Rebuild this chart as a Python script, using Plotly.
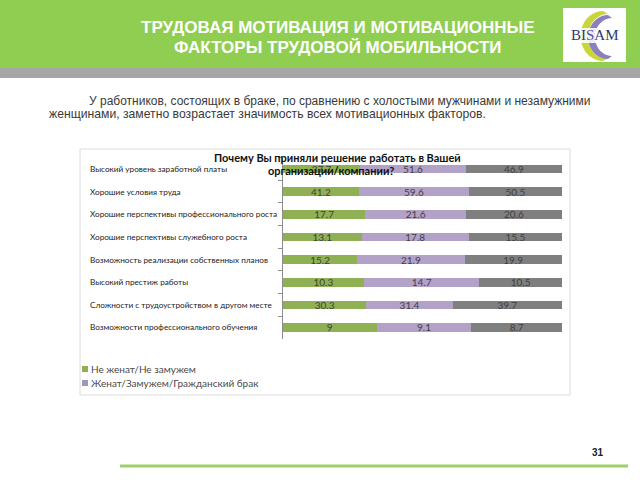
import math
import plotly.graph_objects as go

categories = [
    "Высокий уровень заработной платы",
    "Хорошие условия труда",
    "Хорошие перспективы профессионального роста",
    "Хорошие перспективы служебного роста",
    "Возможность реализации собственных планов",
    "Высокий престиж работы",
    "Сложности с трудоустройством в другом месте",
    "Возможности профессионального обучения",
]
series_names = [
    "Не женат/Не замужем",
    "Женат/Замужем/Гражданский брак",
    "Разведен(а)/Вдовец/Вдова",
]
single = [37.7, 41.2, 17.7, 13.1, 15.2, 10.3, 30.3, 9]
married = [51.6, 59.6, 21.6, 17.8, 21.9, 14.7, 31.4, 9.1]
divorced = [46.9, 50.5, 20.6, 15.5, 19.9, 10.5, 39.7, 8.7]
series_values = [single, married, divorced]
colors = ["#8fb153", "#b3a2c7", "#7f7f7f"]
legend_colors = ["#8fb153", "#9e98b8", "#9a9a9a"]
legend_shown = [True, True, False]

W, H = 640, 480


def px(x):
    return x / W


def py(y):
    return 1 - y / H


fig = go.Figure()
for name, vals, col in zip(series_names, series_values, colors):
    fig.add_trace(go.Bar(
        y=categories, x=vals, name=name, orientation="h",
        marker=dict(color=col, line=dict(width=0)),
        text=[f"{v:g}" for v in vals], texttemplate="%{text}", textposition="inside",
        insidetextanchor="middle", textangle=0,
        textfont=dict(family="Lato, Liberation Sans, sans-serif", size=10, color="#404040"),
        width=0.38, showlegend=False, hoverinfo="skip",
    ))

shapes = [
    dict(type="rect", xref="paper", yref="paper", x0=0, x1=1, y0=py(68), y1=1,
         fillcolor="#8fce50", line=dict(width=0), layer="below"),
    dict(type="rect", xref="paper", yref="paper", x0=0, x1=1, y0=py(78), y1=py(68),
         fillcolor="#a6a6a6", line=dict(width=0), layer="below"),
    dict(type="rect", xref="paper", yref="paper", x0=px(563), x1=px(626), y0=py(62), y1=py(8),
         fillcolor="white", line=dict(width=0), layer="below"),
    dict(type="rect", xref="paper", yref="paper", x0=px(80), x1=px(570), y0=py(395), y1=py(149),
         fillcolor="rgba(0,0,0,0)", line=dict(color="#dcdcdc", width=1), layer="below"),
    dict(type="line", xref="paper", yref="paper", x0=px(120), x1=px(628), y0=py(466), y1=py(466),
         line=dict(color="#9dd06a", width=3)),
]


def arc_path(cx, cy, r_out, r_in, dx):
    pts_out = []
    pts_in = []
    for i in range(0, 21):
        a = math.pi / 2 + math.pi * i / 20
        pts_out.append((cx + r_out * 0.9 * math.cos(a), cy - r_out * math.sin(a)))
        pts_in.append((cx + dx + r_in * 0.9 * math.cos(a), cy - r_in * math.sin(a)))
    path = "M " + " L ".join(f"{px(x):.5f},{py(y):.5f}" for x, y in pts_out)
    path += " L " + " L ".join(f"{px(x):.5f},{py(y):.5f}" for x, y in reversed(pts_in)) + " Z"
    return path


shapes.append(dict(type="path", xref="paper", yref="paper",
                   path=arc_path(603, 36, 25, 22, 5), fillcolor="#c9d63a",
                   line=dict(width=0)))
shapes.append(dict(type="path", xref="paper", yref="paper",
                   path=arc_path(608, 37, 22, 19, 4), fillcolor="#8b7fc0",
                   line=dict(width=0)))
shapes.append(dict(type="rect", xref="paper", yref="paper", x0=px(566), x1=px(624), y0=py(43), y1=py(28),
                   fillcolor="rgba(255,255,255,0.85)", line=dict(width=0)))

title_font = dict(family="Liberation Sans, Arial, sans-serif", size=17, color="white")
body_font = dict(family="Liberation Sans, Arial, sans-serif", size=12.2, color="#3a3a3a")
annotations = [
    dict(text="<b>ТРУДОВАЯ МОТИВАЦИЯ И МОТИВАЦИОННЫЕ</b>",
         x=px(338), y=py(27), xref="paper", yref="paper", showarrow=False,
         font=title_font, xanchor="center", yanchor="middle"),
    dict(text="<b>ФАКТОРЫ ТРУДОВОЙ МОБИЛЬНОСТИ</b>",
         x=px(338), y=py(48), xref="paper", yref="paper", showarrow=False,
         font=title_font, xanchor="center", yanchor="middle"),
    dict(text="BI<span style='color:#5b4fa0'>S</span>AM", x=px(595), y=py(35), xref="paper", yref="paper",
         showarrow=False, font=dict(family="Liberation Serif, serif", size=15, color="#2c3a70"),
         xanchor="center", yanchor="middle"),
    dict(text="У работников, состоящих в браке, по сравнению с холостыми мужчинами и незамужними",
         x=px(87), y=py(101), xref="paper", yref="paper", showarrow=False,
         font=dict(body_font, size=12.0), xanchor="left", yanchor="middle"),
    dict(text="женщинами, заметно возрастает значимость всех мотивационных факторов.",
         x=px(47), y=py(114), xref="paper", yref="paper", showarrow=False,
         font=body_font, xanchor="left", yanchor="middle"),
    dict(text="<b>Почему Вы приняли решение работать в Вашей</b>",
         x=px(337), y=py(158), xref="paper", yref="paper", showarrow=False,
         font=dict(family="Lato, Liberation Sans, sans-serif", size=11, color="#111111"),
         xanchor="center", yanchor="middle"),
    dict(text="<b>организации/компании?</b>",
         x=px(331), y=py(170), xref="paper", yref="paper", showarrow=False,
         font=dict(family="Lato, Liberation Sans, sans-serif", size=11, color="#111111"),
         xanchor="center", yanchor="middle"),
    dict(text="<b>31</b>", x=px(598), y=py(452), xref="paper", yref="paper", showarrow=False,
         font=dict(family="Liberation Sans, Arial, sans-serif", size=10, color="#222222"),
         xanchor="center", yanchor="middle"),
]
for c in categories:
    annotations.append(dict(text=c, x=px(88), y=c, xref="paper", yref="y", showarrow=False,
                            xanchor="left", yanchor="middle",
                            font=dict(family="Lato, Liberation Sans, sans-serif", size=8.2, color="#222222")))

leg_y0 = 369
for i, (name, col, shown) in enumerate(zip(series_names, legend_colors, legend_shown)):
    if not shown:
        continue
    yc = leg_y0 + 14 * i
    shapes.append(dict(type="rect", xref="paper", yref="paper",
                       x0=px(82), x1=px(88), y0=py(yc + 3), y1=py(yc - 3),
                       fillcolor=col, line=dict(width=0)))
    annotations.append(dict(text=name, x=px(89), y=py(yc), xref="paper", yref="paper",
                            showarrow=False, xanchor="left", yanchor="middle",
                            font=dict(family="Lato, Liberation Sans, sans-serif", size=10, color="#4a4a4a")))

fig.update_layout(
    width=W, height=H, margin=dict(l=0, r=0, t=0, b=0),
    paper_bgcolor="white", plot_bgcolor="white",
    barmode="stack", barnorm="percent", showlegend=False,
    shapes=shapes, annotations=annotations,
    uniformtext=dict(mode="show", minsize=10),
    xaxis=dict(domain=[px(283), px(562)], range=[0, 100], visible=False, fixedrange=True),
    yaxis=dict(domain=[py(338.8), py(157.7)], autorange="reversed", showticklabels=False,
               showline=True, linecolor="#8c8c8c", linewidth=1, ticks="outside",
               tickson="boundaries", ticklen=4, tickcolor="#8c8c8c", showgrid=False, fixedrange=True),
)

fig.write_html("out.html", config={"displayModeBar": False},
               post_script="document.body.style.margin='0';")
